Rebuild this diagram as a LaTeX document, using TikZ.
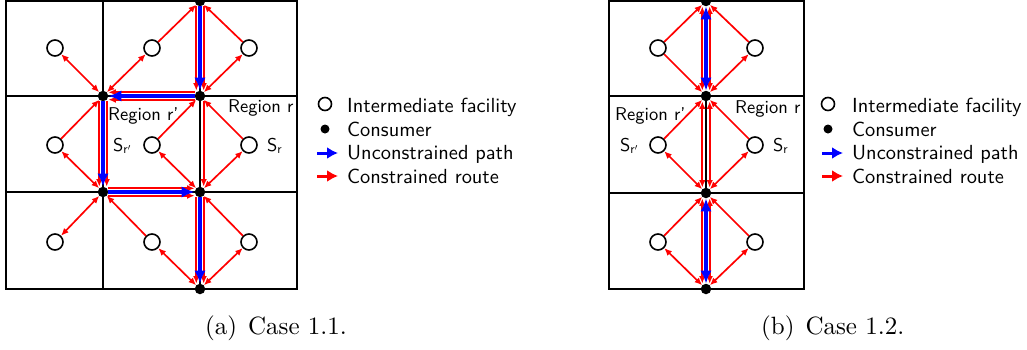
\documentclass[tikz,border=0pt]{standalone}
\usepackage{fontspec}
\newfontfamily\lmsansten{lmsans10-regular}[Extension=.otf]
\newfontfamily\lmromten{lmroman10-regular}[Extension=.otf]
\usetikzlibrary{arrows.meta}
\begin{document}
\begin{tikzpicture}[x=1pt,y=-1pt,
  gridline/.style={line width=1.8pt},
  fac/.style={circle,draw,line width=1.6pt,minimum size=16pt,inner sep=0pt,fill=white},
  con/.style={circle,fill=black,minimum size=10.5pt,inner sep=0pt},
  rl/.style={red,line width=1.7pt},
  oneway/.style={rl,-{Latex[length=7.5pt,width=6.5pt]}},
  twoway/.style={rl,{Latex[length=7.5pt,width=6.5pt]}-{Latex[length=7.5pt,width=6.5pt]}},
  broute/.style={blue,line width=3.4pt,-{Latex[length=13pt,width=11.5pt]}},
  broute2/.style={blue,line width=3.4pt,{Latex[length=13pt,width=11.5pt]}-{Latex[length=13pt,width=11.5pt]}},
  vlft/.style={transform canvas={xshift=-3.7pt}},
  vrgt/.style={transform canvas={xshift=3.7pt}},
  hup/.style={transform canvas={yshift=3.7pt}},
  hdn/.style={transform canvas={yshift=-3.7pt}},
  lab/.style={anchor=base west,inner sep=0pt,font=\fontsize{18.5}{20}\selectfont\lmsansten},
  leg/.style={anchor=base west,inner sep=0pt,font=\fontsize{20.4}{22}\selectfont\lmsansten},
  captext/.style={anchor=base west,inner sep=0pt,font=\fontsize{25}{28}\selectfont\lmromten},
  legfac/.style={circle,draw,line width=1.6pt,minimum size=13pt,inner sep=0pt},
  legcon/.style={circle,fill=black,minimum size=9pt,inner sep=0pt},
  legarr/.style={line width=3pt,-{Latex[length=11pt,width=12pt]}}
]
\useasboundingbox (0,0) rectangle (1027,349);
\clip (0,0) rectangle (1027,349);

% ---------- panel (a) grid
\draw[gridline] (6,1) rectangle (297,289);
\draw[gridline] (103,1) -- (103,289);
\draw[gridline] (200,1) -- (200,289);
\draw[gridline] (6,96) -- (297,96);
\draw[gridline] (6,192) -- (297,192);

% facilities (a)
\node[fac] (fa11) at (55,48) {};
\node[fac] (fa12) at (152,48) {};
\node[fac] (fa13) at (249,48) {};
\node[fac] (fa21) at (55,145) {};
\node[fac] (fa22) at (152,145) {};
\node[fac] (fa23) at (249,145) {};
\node[fac] (fa31) at (55,242) {};
\node[fac] (fa32) at (152,242) {};
\node[fac] (fa33) at (249,242) {};
% consumers (a)
\node[con] (ca0) at (200,1) {};
\node[con] (ca1) at (103,96) {};
\node[con] (ca2) at (200,96) {};
\node[con] (ca3) at (103,192) {};
\node[con] (ca4) at (200,192) {};
\node[con] (ca5) at (200,289) {};

% facility arrows (a)
\draw[twoway] (fa11) -- (ca1);
\draw[twoway] (fa12) -- (ca1);
\draw[oneway] (fa12) -- (ca0);
\draw[oneway] (fa13) -- (ca0);
\draw[twoway] (fa13) -- (ca2);
\draw[oneway] (fa21) -- (ca1);
\draw[twoway] (fa21) -- (ca3);
\draw[oneway] (fa22) -- (ca2);
\draw[twoway] (fa22) -- (ca4);
\draw[oneway] (fa23) -- (ca2);
\draw[twoway] (fa23) -- (ca4);
\draw[twoway] (fa31) -- (ca3);
\draw[oneway] (fa32) -- (ca3);
\draw[twoway] (fa32) -- (ca5);
\draw[oneway] (fa33) -- (ca4);
\draw[twoway] (fa33) -- (ca5);

% routes (a)
\draw[oneway,vlft] (ca0) -- (ca2);
\draw[oneway,vrgt] (ca0) -- (ca2);
\draw[broute] (ca0) -- (ca2);
\draw[oneway,hup] (ca2) -- (ca1);
\draw[oneway,hdn] (ca2) -- (ca1);
\draw[broute] (ca2) -- (ca1);
\draw[oneway,vlft] (ca1) -- (ca3);
\draw[oneway,vrgt] (ca1) -- (ca3);
\draw[broute] (ca1) -- (ca3);
\draw[oneway,hup] (ca3) -- (ca4);
\draw[oneway,hdn] (ca3) -- (ca4);
\draw[broute] (ca3) -- (ca4);
\draw[oneway,vlft] (ca4) -- (ca5);
\draw[oneway,vrgt] (ca4) -- (ca5);
\draw[broute] (ca4) -- (ca5);
\draw[oneway,vrgt] (ca2) -- (ca4);

% labels (a)
\node[lab] (ra1) at (108,120) {Region r’};
\node[lab] (ra2) at (228,112) {Region r};
\node[lab] (sa1) at (113,151) {S$_{\mathsf{r'}}$};
\node[lab] (sa2) at (267,151) {S$_{\mathsf{r}}$};

% legend (a)
\node[legfac] (lfa) at (325,104) {};
\node[legcon] (lca) at (325,129) {};
\coordinate (lba1) at (317,153);
\coordinate (lba2) at (338,153);
\coordinate (lra1) at (317,176);
\coordinate (lra2) at (338,176);
\draw[legarr,blue] (lba1) -- (lba2);
\draw[legarr,red] (lra1) -- (lra2);
\node[leg] (ta1) at (347,112) {Intermediate facility};
\node[leg] (ta2) at (347,136) {Consumer};
\node[leg] (ta3) at (347,159.5) {Unconstrained path};
\node[leg] (ta4) at (347,183) {Constrained route};

\node[captext] (capa) at (205,334) {(a)\hspace{11pt}Case 1.1.};

% ---------- panel (b) grid
\draw[gridline] (609,1) rectangle (804,289);
\draw[gridline] (609,96) -- (804,96);
\draw[gridline] (609,193) -- (804,193);
\draw[gridline] (706,96) -- (706,193);

\node[fac] (fb11) at (658,48) {};
\node[fac] (fb12) at (755,48) {};
\node[fac] (fb21) at (658,145) {};
\node[fac] (fb22) at (755,145) {};
\node[fac] (fb31) at (658,242) {};
\node[fac] (fb32) at (755,242) {};
\node[con] (cb0) at (706,1) {};
\node[con] (cb1) at (706,96) {};
\node[con] (cb2) at (706,193) {};
\node[con] (cb3) at (706,289) {};

\draw[oneway] (fb11) -- (cb0);
\draw[oneway] (fb11) -- (cb1);
\draw[oneway] (fb12) -- (cb0);
\draw[twoway] (fb12) -- (cb1);
\draw[oneway] (fb21) -- (cb1);
\draw[oneway] (fb22) -- (cb1);
\draw[twoway] (fb21) -- (cb2);
\draw[twoway] (fb22) -- (cb2);
\draw[oneway] (fb31) -- (cb2);
\draw[oneway] (fb32) -- (cb2);
\draw[twoway] (fb31) -- (cb3);
\draw[twoway] (fb32) -- (cb3);

\draw[twoway,vlft] (cb0) -- (cb1);
\draw[twoway,vrgt] (cb0) -- (cb1);
\draw[broute2] (cb0) -- (cb1);
\draw[twoway,vlft] (cb1) -- (cb2);
\draw[twoway,vrgt] (cb1) -- (cb2);
\draw[twoway,vlft] (cb2) -- (cb3);
\draw[twoway,vrgt] (cb2) -- (cb3);
\draw[broute2] (cb2) -- (cb3);

\node[lab] (rb1) at (615,120) {Region r’};
\node[lab] (rb2) at (735,113) {Region r};
\node[lab] (sb1) at (620,151) {S$_{\mathsf{r'}}$};
\node[lab] (sb2) at (773,151) {S$_{\mathsf{r}}$};

\node[legfac] (lfb) at (828,104) {};
\node[legcon] (lcb) at (828,129) {};
\coordinate (lbb1) at (822,153);
\coordinate (lbb2) at (843,153);
\coordinate (lrb1) at (822,176);
\coordinate (lrb2) at (843,176);
\draw[legarr,blue] (lbb1) -- (lbb2);
\draw[legarr,red] (lrb1) -- (lrb2);
\node[leg] (tb1) at (852,112) {Intermediate facility};
\node[leg] (tb2) at (852,136) {Consumer};
\node[leg] (tb3) at (852,159.5) {Unconstrained path};
\node[leg] (tb4) at (852,183) {Constrained route};

\node[captext] (capb) at (761,334) {(b)\hspace{11pt}Case 1.2.};
\end{tikzpicture}
\end{document}
